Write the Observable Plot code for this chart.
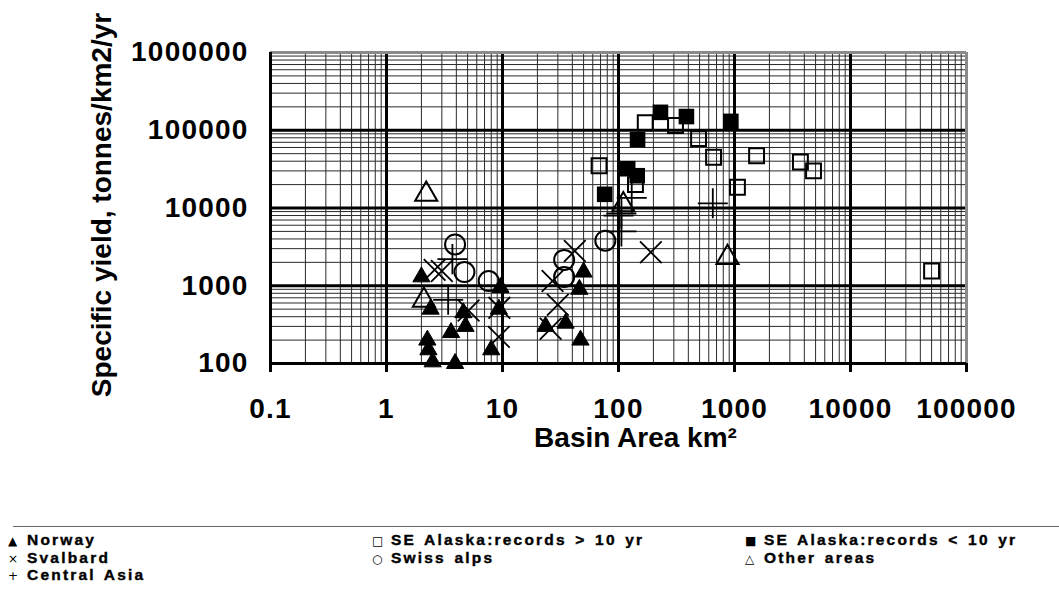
<!DOCTYPE html>
<html>
<head>
<meta charset="utf-8">
<script src="https://cdn.jsdelivr.net/npm/d3@7"></script>
<script src="https://cdn.jsdelivr.net/npm/@observablehq/plot@0.6"></script>
<style>
html, body { margin: 0; padding: 0; background: #fff; overflow: hidden; width: 1059px; height: 596px; }
#chart { position: relative; width: 1059px; height: 596px; font-family: "Liberation Sans", Arial, sans-serif; overflow: hidden; }
#chart svg { display: block; }
#chart svg text { font-family: "Liberation Sans", Arial, sans-serif; font-weight: bold; }
g[aria-label="x-axis tick label"] text, g[aria-label="y-axis tick label"] text { letter-spacing: 1.2px; }
.legend-line { position: absolute; left: 13px; right: 0; top: 526px; border-top: 1.5px solid #666; }
.leg { position: absolute; font-weight: bold; font-size: 15.5px; line-height: 17.4px; height: 17.4px; white-space: nowrap; letter-spacing: 2.2px; word-spacing: 2px; color: #000; -webkit-text-stroke: 0.4px #000; }
.sym { display: inline-block; width: 19px; font-size: 12px; letter-spacing: 0; font-family: "DejaVu Sans", sans-serif; font-weight: normal; -webkit-text-stroke: 0; }
</style>
</head>
<body>
<div id="chart"></div>
<script>
// ---- data (basin area km², specific yield tonnes/km²/yr) ----
const seriesNames = ["Norway", "Svalbard", "Central Asia", "SE Alaska:records > 10 yr", "Swiss alps", "SE Alaska:records < 10 yr", "Other areas"];

const norway = [[2.0,1300],[2.4,500],[2.25,200],[2.3,150],[2.5,105],[3.9,100],[3.6,250],[4.8,300],[4.6,450],
                [9.6,950],[9.3,500],[8.0,150],[23.5,300],[35,330],[47,200],[50,1500],[46,900]];
const svalbard = [[2.6,1600],[3.0,1550],[5.1,480],[9.3,220],[9.4,520],[42,2800],[27,1150],[30,570],[26,280],[190,2700]];
const centralAsia = [[3.7,2200],[3.4,660],[100,8000],[106,8500],[106,5000],[130,13500],[650,11500]];
const alaskaLong = [[68,35000],[170,125000],[310,115000],[490,78000],[660,45000],[140,20000],[1060,18500],
                    [1550,47000],[3700,39000],[4800,30000],[50000,1550]];
const swiss = [[3.9,3400],[4.7,1500],[7.6,1150],[34,2150],[34,1300],[77,3800]];
const alaskaShort = [[76,15000],[230,170000],[385,150000],[930,130000],[146,76000],[120,32000],[145,26000]];
const other = [[2.2,15000],[2.1,650],[110,11000],[870,2300]];

const xMajor = [0.1, 1, 10, 100, 1000, 10000, 100000];
const yMajor = [100, 1000, 10000, 100000, 1000000];
const xTitle = "Basin Area km²";
const yTitle = "Specific yield, tonnes/km2/yr";

// ---- grid from the library's log-scale ticks ----
const xAll = d3.scaleLog().domain([xMajor[0], xMajor[xMajor.length - 1]]).ticks();
const yAll = d3.scaleLog().domain([yMajor[0], yMajor[yMajor.length - 1]]).ticks();
const isMajor = v => Math.abs(Math.log10(v) - Math.round(Math.log10(v))) < 1e-9;
const xMinor = xAll.filter(v => !isMajor(v));
const yMinor = yAll.filter(v => !isMajor(v));
const xInner = xMajor.slice(1, -1);
const yInner = yMajor.slice(1, -1);

const px = d => d[0], py = d => d[1];
const ink = "#000";

const chart = Plot.plot({
  width: 1059,
  height: 520,
  marginTop: 52,
  marginBottom: 157,
  marginLeft: 270,
  marginRight: 93,
  style: { fontFamily: '"Liberation Sans", Arial, sans-serif', background: "#fff", overflow: "visible" },
  x: { type: "log", domain: [0.1, 100000] },
  y: { type: "log", domain: [100, 1000000] },
  marks: [
    Plot.ruleX(xMinor, { stroke: "#2a2a2a", strokeWidth: 1 }),
    Plot.ruleY(yMinor, { stroke: "#2a2a2a", strokeWidth: 1 }),
    Plot.ruleX(xInner, { stroke: ink, strokeWidth: 3 }),
    Plot.ruleY(yInner, { stroke: ink, strokeWidth: 3 }),
    Plot.ruleY([yMajor[yMajor.length - 1]], { stroke: "#8a8a8a", strokeWidth: 3 }),
    Plot.ruleX([xMajor[xMajor.length - 1]], { stroke: "#8a8a8a", strokeWidth: 3 }),
    Plot.ruleX([xMajor[0]], { stroke: ink, strokeWidth: 3 }),
    Plot.ruleY([yMajor[0]], { stroke: ink, strokeWidth: 3 }),
    Plot.axisX(xMajor, { tickSize: 9, strokeWidth: 3, tickPadding: 26, fontSize: 28, fontWeight: "bold", tickFormat: d => String(d), label: null }),
    Plot.axisY(yMajor, { tickSize: 0, tickPadding: 22, fontSize: 28, fontWeight: "bold", tickFormat: d => String(d), label: null }),
    // series
    Plot.dot(alaskaLong, { x: px, y: py, symbol: "square", r: 8.4, fill: "none", stroke: ink, strokeWidth: 2 }),
    Plot.dot(alaskaShort, { x: px, y: py, symbol: "square", r: 8.8, fill: ink, stroke: "none" }),
    Plot.dot(swiss, { x: px, y: py, symbol: "circle", r: 10, fill: "none", stroke: ink, strokeWidth: 2 }),
    Plot.dot(other, { x: px, y: py, symbol: "triangle", r: 8.2, fill: "none", stroke: ink, strokeWidth: 2 }),
    Plot.dot(svalbard, { x: px, y: py, symbol: "times", r: 9.9, fill: "none", stroke: ink, strokeWidth: 1.8 }),
    Plot.dot(centralAsia, { x: px, y: py, symbol: "plus", r: 9.7, fill: "none", stroke: ink, strokeWidth: 1.8 }),
    Plot.dot(norway, { x: px, y: py, symbol: "triangle", r: 6.4, fill: ink, stroke: ink, strokeWidth: 1 }),
    // titles
    Plot.text([xTitle], { text: d => d, frameAnchor: "bottom", dx: 17, dy: 75, textAnchor: "middle", lineAnchor: "middle", fontSize: 28, fontWeight: "bold", fill: ink }),
    Plot.text([yTitle], { text: d => d, frameAnchor: "left", rotate: -90, dx: -168, dy: -3, textAnchor: "middle", lineAnchor: "middle", fontSize: 28, fontWeight: "bold", fill: ink })
  ]
});

const root = document.getElementById("chart");
root.appendChild(chart);

// ---- legend (HTML, below the SVG) ----
const legendSymbols = ["▲", "×", "+", "□", "○", "■", "△"];
const legendPos = [[8, 531.3], [8, 548.8], [8, 566.3], [372, 531.3], [372, 548.8], [745, 531.3], [745, 548.8]];
const line = document.createElement("div");
line.className = "legend-line";
root.appendChild(line);
seriesNames.forEach((name, i) => {
  const el = document.createElement("div");
  el.className = "leg";
  el.style.left = legendPos[i][0] + "px";
  el.style.top = legendPos[i][1] + "px";
  const s = document.createElement("span");
  s.className = "sym";
  s.textContent = legendSymbols[i];
  el.appendChild(s);
  el.appendChild(document.createTextNode(name));
  root.appendChild(el);
});
</script>
</body>
</html>
